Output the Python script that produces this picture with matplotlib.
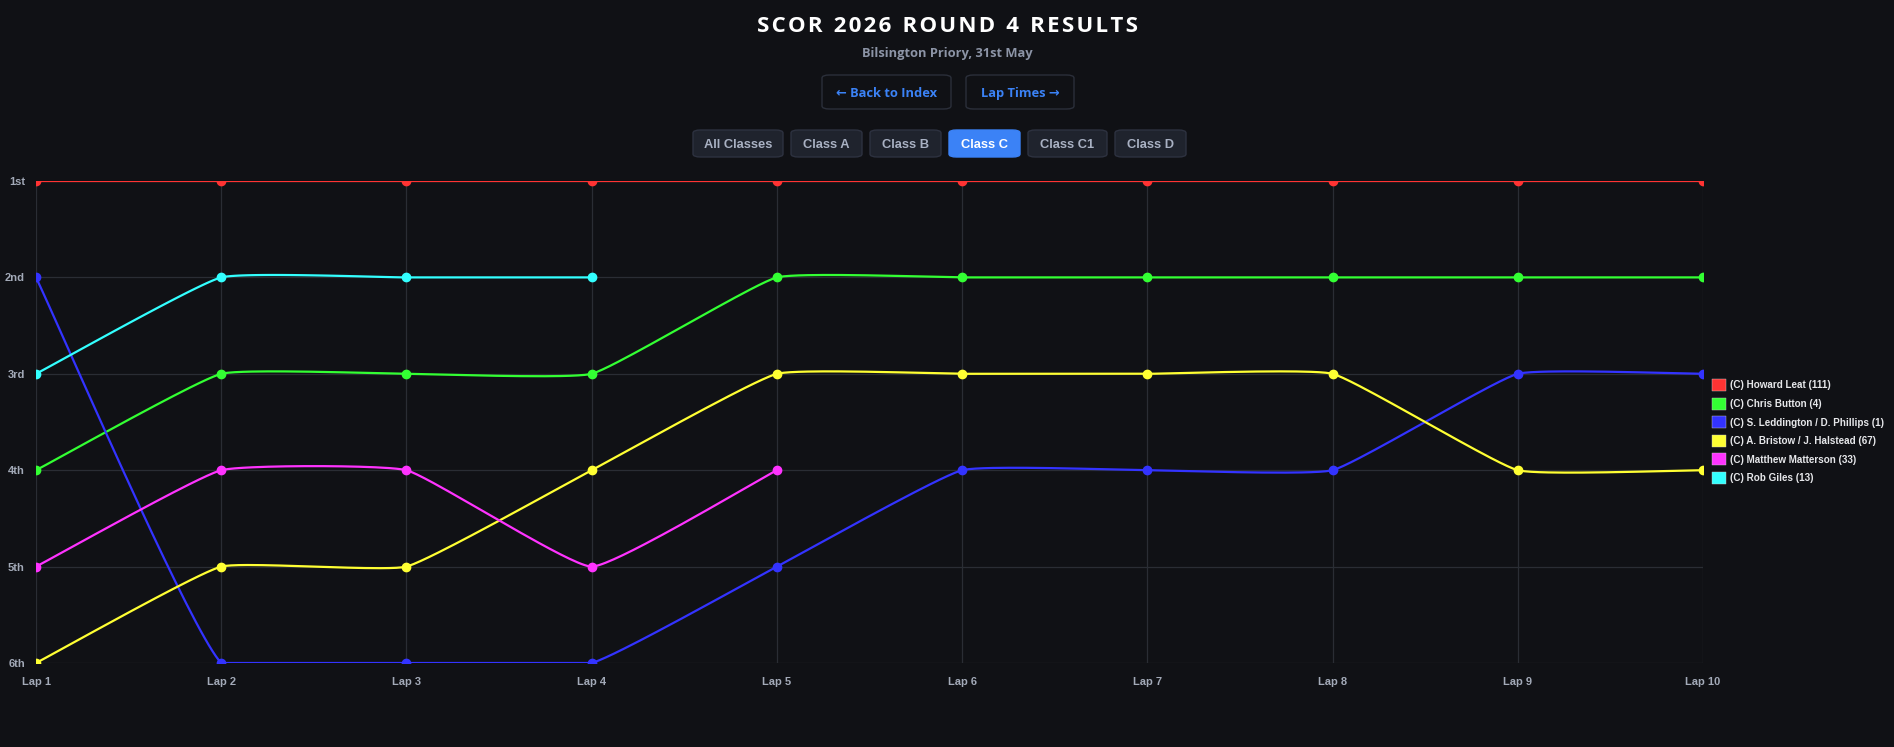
import matplotlib.pyplot as plt
from matplotlib.patches import FancyBboxPatch, Patch
import numpy as np

laps = ["Lap 1", "Lap 2", "Lap 3", "Lap 4", "Lap 5", "Lap 6", "Lap 7", "Lap 8", "Lap 9", "Lap 10"]
positions = ["1st", "2nd", "3rd", "4th", "5th", "6th"]

drivers = ["(C) Howard Leat (111)", "(C) Chris Button (4)", "(C) S. Leddington / D. Phillips (1)",
           "(C) A. Bristow / J. Halstead (67)", "(C) Matthew Matterson (33)", "(C) Rob Giles (13)"]
colors = ["#ff3333", "#33ff33", "#3333ff", "#ffff33", "#ff33ff", "#33ffff"]

leat = [1, 1, 1, 1, 1, 1, 1, 1, 1, 1]
button = [4, 3, 3, 3, 2, 2, 2, 2, 2, 2]
leddington = [2, 6, 6, 6, 5, 4, 4, 4, 3, 3]
bristow = [6, 5, 5, 4, 3, 3, 3, 3, 4, 4]
matterson = [5, 4, 4, 5, 4]
giles = [3, 2, 2, 2]
series = [leat, button, leddington, bristow, matterson, giles]

BG = "#101115"
GRID = "#2a2d34"
TICK = "#a3aab8"

W, H = 1894, 747
fig = plt.figure(figsize=(W / 100, H / 100), dpi=100, facecolor=BG)

x0, x1, y0, y1 = 36, 1703, 181, 663
ax = fig.add_axes([x0 / W, 1 - y1 / H, (x1 - x0) / W, (y1 - y0) / H])
ax.set_facecolor(BG)
ax.set_xlim(0, 9)
ax.set_ylim(6, 1)


def spline(xs, ys, t=0.12):
    # chart.js style bezier smoothing, done in pixel space
    sx = (x1 - x0) / 9.0
    sy = (y1 - y0) / 5.0
    px = np.array(xs) * sx
    py = np.array(ys) * sy
    n = len(px)
    cps = []
    for i in range(n):
        pi = max(i - 1, 0)
        ni = min(i + 1, n - 1)
        d01 = np.hypot(px[i] - px[pi], py[i] - py[pi])
        d12 = np.hypot(px[ni] - px[i], py[ni] - py[i])
        tot = d01 + d12
        s01 = d01 / tot if tot else 0
        s12 = d12 / tot if tot else 0
        dx = px[ni] - px[pi]
        dy = py[ni] - py[pi]
        cp_prev = (px[i] - t * s01 * dx, py[i] - t * s01 * dy)
        cp_next = (px[i] + t * s12 * dx, py[i] + t * s12 * dy)
        cps.append((cp_prev, cp_next))
    ox, oy = [], []
    u = np.linspace(0, 1, 40)
    for i in range(n - 1):
        p0 = (px[i], py[i])
        c1 = cps[i][1]
        c2 = cps[i + 1][0]
        p3 = (px[i + 1], py[i + 1])
        c1 = (c1[0], min(max(c1[1], 1 * sy), 6 * sy))
        c2 = (c2[0], min(max(c2[1], 1 * sy), 6 * sy))
        bx = (1 - u) ** 3 * p0[0] + 3 * (1 - u) ** 2 * u * c1[0] + 3 * (1 - u) * u ** 2 * c2[0] + u ** 3 * p3[0]
        by = (1 - u) ** 3 * p0[1] + 3 * (1 - u) ** 2 * u * c1[1] + 3 * (1 - u) * u ** 2 * c2[1] + u ** 3 * p3[1]
        ox.extend(bx)
        oy.extend(by)
    return np.array(ox) / sx, np.array(oy) / sy


for vals, col in zip(series, colors):
    xs = list(range(len(vals)))
    sx_, sy_ = spline(xs, vals)
    ax.plot(sx_, sy_, color=col, lw=1.6, zorder=3)
    ax.plot(xs, vals, "o", color=col, ms=6.0, zorder=4)

ax.set_xticks(range(len(laps)))
ax.set_xticklabels(laps)
ax.set_yticks(range(1, 7))
ax.set_yticklabels(positions)
ax.grid(True, color=GRID, lw=0.9)
ax.set_axisbelow(True)
for s in ax.spines.values():
    s.set_visible(False)
ax.tick_params(length=0, colors=TICK, labelsize=8, pad=10)
ax.tick_params(axis="y", pad=8)
for lab in ax.get_xticklabels() + ax.get_yticklabels():
    lab.set_fontweight("bold")
    lab.set_family("Liberation Sans")

handles = [Patch(facecolor=c, edgecolor="#cccccc", lw=0.3) for c in colors]
leg = fig.legend(handles, drivers, loc="center left", bbox_to_anchor=(1712 / W, 1 - 431.5 / H),
                 frameon=False, labelcolor="#e6e7ea", handlelength=1.45, handleheight=1.45,
                 handletextpad=0.35, labelspacing=0.69, borderpad=0, borderaxespad=0,
                 prop={"family": "Liberation Sans", "weight": "bold", "size": 7.1})

# header text, letter-spaced with hair spaces
title = "\u2002".join("\u200a".join(w) for w in "SCOR 2026 ROUND 4 RESULTS".split())
fig.text(947 / W, 1 - 26 / H, title,
         ha="center", va="center", color="white", fontsize=16, fontweight="bold", family="Open Sans")
fig.text(947 / W, 1 - 53 / H, "Bilsington Priory, 31st May", ha="center", va="center",
         color="#8c94a6", fontsize=9.3, fontweight="bold", family="Open Sans")


def button(xa, xb, ya, yb, text, face, edge, tcol, fam):
    box = FancyBboxPatch((xa / W, 1 - yb / H), (xb - xa) / W, (yb - ya) / H,
                         boxstyle="round,pad=0,rounding_size=0.004", transform=fig.transFigure,
                         facecolor=face, edgecolor=edge, lw=1.0)
    fig.add_artist(box)
    fig.text((xa + xb) / 2 / W, 1 - ((ya + yb) / 2 + 1.5) / H, text, ha="center", va="center",
             color=tcol, fontsize=9.3, fontweight="bold", family=fam)


button(822, 951, 75, 109, "\u2190 Back to Index", BG, "#2b2f3a", "#3b82f6", ["Open Sans", "DejaVu Sans"])
button(966, 1074, 75, 109, "Lap Times \u2192", BG, "#2b2f3a", "#3b82f6", ["Open Sans", "DejaVu Sans"])

classes = ["All Classes", "Class A", "Class B", "Class C", "Class C1", "Class D"]
class_x = [(693, 783), (791, 862), (870, 941), (949, 1020), (1028, 1107), (1115, 1186)]
for name, (xa, xb) in zip(classes, class_x):
    if name == "Class C":
        button(xa, xb, 130, 157, name, "#3b82f6", "#3b82f6", "white", ["Liberation Sans"])
    else:
        button(xa, xb, 130, 157, name, "#1f232d", "#2d3240", "#a9b1c3", ["Liberation Sans"])

fig.savefig("out.png", dpi=100, facecolor=BG)
